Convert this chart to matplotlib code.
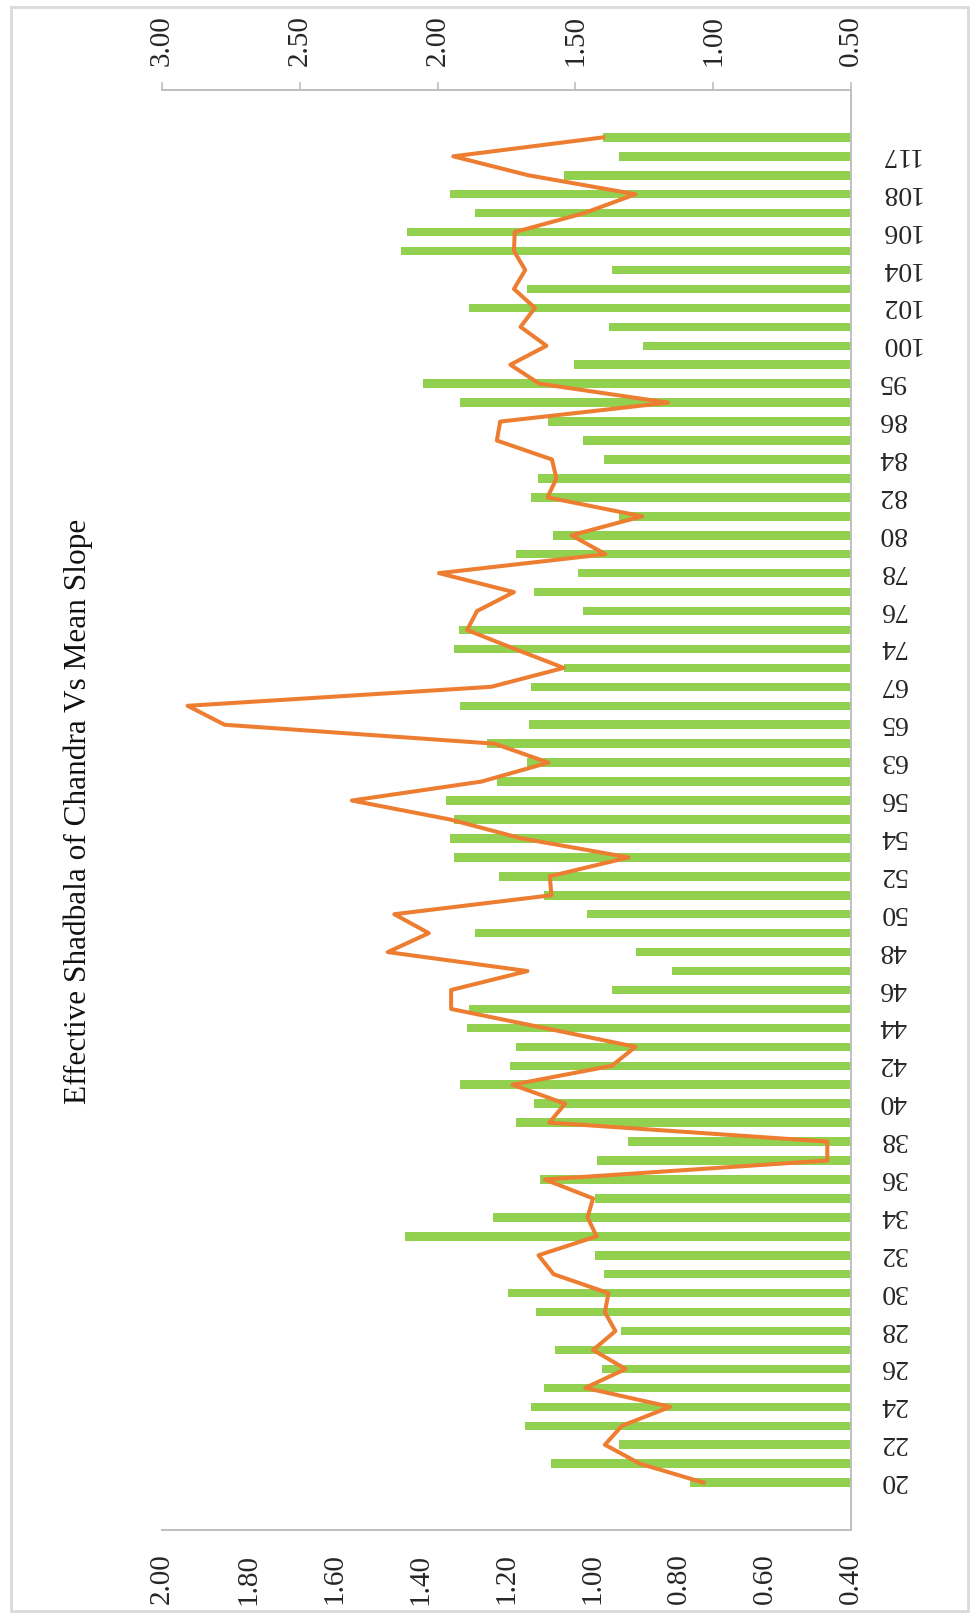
import matplotlib
matplotlib.use("Agg")
import matplotlib.pyplot as plt
from matplotlib.patches import Rectangle
from matplotlib.ticker import FormatStrFormatter
from matplotlib.transforms import ScaledTranslation
import numpy as np

plt.rcParams['font.family'] = ['Liberation Serif', 'DejaVu Serif']

# Categories (bottom to top); only every other one is labelled in the chart
categories = ['20', '21', '22', '23', '24', '25', '26', '27', '28', '29',
              '30', '31', '32', '33', '34', '35', '36', '37', '38', '39',
              '40', '41', '42', '43', '44', '45', '46', '47', '48', '49',
              '50', '51', '52', '53', '54', '55', '56', '60', '63', '64',
              '65', '66', '67', '70', '74', '75', '76', '77', '78', '79',
              '80', '81', '82', '83', '84', '85', '86', '90', '95', '98',
              '100', '101', '102', '103', '104', '105', '106', '107', '108', '110',
              '117', '120']

# Effective Shadbala (bars, bottom axis 0.40-2.00)
shadbala = [0.774, 1.097, 0.939, 1.157, 1.142, 1.113, 0.978, 1.087, 0.934, 1.132,
            1.197, 0.973, 0.994, 1.435, 1.232, 0.994, 1.123, 0.989, 0.918, 1.178,
            1.137, 1.307, 1.192, 1.178, 1.292, 1.287, 0.955, 0.815, 0.899, 1.272,
            1.013, 1.113, 1.217, 1.322, 1.332, 1.322, 1.341, 1.222, 1.153, 1.246,
            1.147, 1.307, 1.142, 1.067, 1.322, 1.311, 1.023, 1.137, 1.033, 1.178,
            1.093, 0.939, 1.142, 1.127, 0.973, 1.023, 1.103, 1.307, 1.395, 1.043,
            0.884, 0.963, 1.287, 1.153, 0.955, 1.445, 1.432, 1.272, 1.331, 1.067,
            0.939, 0.975]

# Mean slope (line, top axis 0.50-3.00)
mean_slope = [1.035, 1.266, 1.393, 1.331, 1.156, 1.464, 1.318, 1.436, 1.355, 1.393,
              1.380, 1.579, 1.634, 1.423, 1.456, 1.436, 1.611, 0.586, 0.586, 1.595,
              1.537, 1.728, 1.368, 1.282, 1.614, 1.951, 1.951, 1.674, 2.181, 2.032,
              2.157, 1.587, 1.593, 1.307, 1.695, 1.955, 2.311, 1.841, 1.598, 1.793,
              2.773, 2.907, 1.806, 1.542, 1.720, 1.893, 1.857, 1.723, 1.995, 1.391,
              1.514, 1.258, 1.601, 1.569, 1.585, 1.785, 1.773, 1.164, 1.631, 1.736,
              1.605, 1.699, 1.647, 1.723, 1.682, 1.723, 1.720, 1.469, 1.282, 1.671,
              1.943, 1.399]

bar_ticks = [0.40, 0.60, 0.80, 1.00, 1.20, 1.40, 1.60, 1.80, 2.00]
line_ticks = [0.50, 1.00, 1.50, 2.00, 2.50, 3.00]
title = "Effective Shadbala of Chandra Vs Mean Slope"

W, H = 971, 1614
fig = plt.figure(figsize=(W / 100, H / 100), dpi=100)
fig.patch.set_facecolor('white')

x0, x1, y0, y1 = 162, 851, 90, 1530
ax = fig.add_axes([x0 / W, 1 - y1 / H, (x1 - x0) / W, (y1 - y0) / H])
ax.set_facecolor('none')

ypos = np.arange(len(categories))
ax.barh(ypos, shadbala, height=0.45, color='#92D050', zorder=2)
ax.set_xlim(2.0, 0.4)
ax.set_ylim(-2.5, len(categories) + 1.5)
ax.set_xticks(bar_ticks)
ax.xaxis.set_major_formatter(FormatStrFormatter('%.2f'))
ax.tick_params(axis='x', length=0, labelrotation=90, labelsize=21,
               pad=17, colors='#262626')
ax.yaxis.tick_right()
ax.set_yticks(ypos[::2])
ax.set_yticklabels(categories[::2])
ax.tick_params(axis='y', length=0, labelrotation=180, labelsize=20,
               pad=20, colors='#262626')
shift = ScaledTranslation(0, 5 / 100, fig.dpi_scale_trans)
for lab in ax.get_yticklabels():
    lab.set_transform(lab.get_transform() + shift)
for s in ['left', 'top']:
    ax.spines[s].set_visible(False)
for s in ['bottom', 'right']:
    ax.spines[s].set_color('#BFBFBF')
    ax.spines[s].set_linewidth(1.4)

ax2 = ax.twiny()
ax2.set_facecolor('none')
ax2.plot(mean_slope, ypos, color='#ED7D31', lw=2.9, zorder=3)
ax2.set_xlim(3.0, 0.5)
ax2.set_xticks(line_ticks)
ax2.xaxis.set_major_formatter(FormatStrFormatter('%.2f'))
ax2.tick_params(axis='x', length=6, width=1.2, color='#BFBFBF',
                labelrotation=90, labelsize=21, pad=11, labelcolor='#262626')
for s in ['left', 'right', 'bottom']:
    ax2.spines[s].set_visible(False)
ax2.spines['top'].set_color('#BFBFBF')
ax2.spines['top'].set_linewidth(1.4)

fig.text(78 / W, 1 - 811 / H, title, rotation=90, ha='center', va='center',
         fontsize=22.5, color='#111111')

fig.patches.append(Rectangle((11 / W, 1 - 1611 / H), (968 - 11) / W, (1611 - 7) / H,
                             transform=fig.transFigure, fill=False,
                             ec='#D9D9D9', lw=2))

fig.savefig('out.png', dpi=100)
